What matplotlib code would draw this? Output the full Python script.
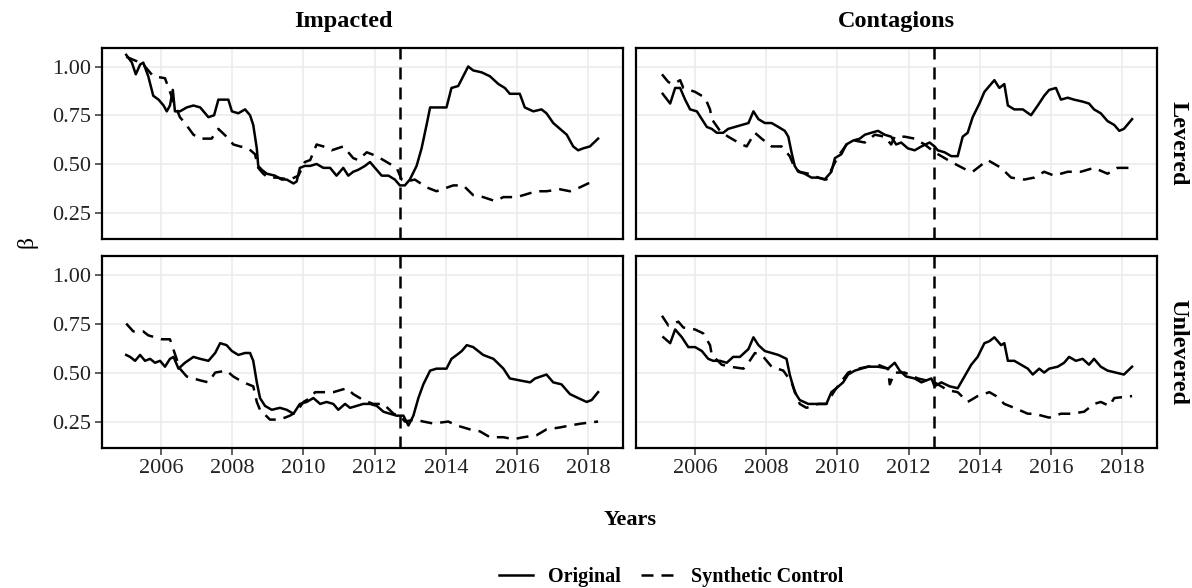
import matplotlib
matplotlib.use("Agg")
import matplotlib.pyplot as plt
from matplotlib.lines import Line2D

plt.rcParams['font.family'] = ['Liberation Serif', 'DejaVu Serif']

# ---------------- data (decimal years, beta) ----------------
imp_lev_orig_x = [2005.02, 2005.18, 2005.29, 2005.41, 2005.50, 2005.64, 2005.78, 2005.93, 2006.07, 2006.16,
                  2006.25, 2006.33, 2006.39, 2006.53, 2006.72, 2006.91, 2007.10, 2007.33, 2007.49, 2007.61,
                  2007.75, 2007.89, 2007.99, 2008.17, 2008.36, 2008.50, 2008.59, 2008.69, 2008.73, 2008.83,
                  2008.97, 2009.20, 2009.39, 2009.53, 2009.72, 2009.81, 2009.90, 2010.04, 2010.19, 2010.37,
                  2010.56, 2010.75, 2010.93, 2011.12, 2011.26, 2011.40, 2011.54, 2011.73, 2011.87, 2012.01,
                  2012.20, 2012.39, 2012.57, 2012.71, 2012.85, 2012.99, 2013.18, 2013.32, 2013.46, 2013.56,
                  2013.74, 2014.02, 2014.16, 2014.35, 2014.49, 2014.63, 2014.77, 2015.01, 2015.24, 2015.48,
                  2015.66, 2015.80, 2016.08, 2016.22, 2016.46, 2016.69, 2016.83, 2017.02, 2017.21, 2017.40,
                  2017.58, 2017.72, 2017.86, 2018.05, 2018.28]
imp_lev_orig_y = [1.06, 1.02, 0.96, 1.01, 1.02, 0.95, 0.85, 0.83, 0.80, 0.77,
                  0.80, 0.88, 0.77, 0.77, 0.79, 0.80, 0.79, 0.74, 0.75, 0.83,
                  0.83, 0.83, 0.77, 0.76, 0.78, 0.75, 0.70, 0.58, 0.49, 0.47,
                  0.45, 0.44, 0.42, 0.42, 0.40, 0.41, 0.48, 0.49, 0.49, 0.50,
                  0.48, 0.48, 0.44, 0.48, 0.44, 0.46, 0.47, 0.49, 0.51, 0.48,
                  0.44, 0.44, 0.42, 0.39, 0.39, 0.42, 0.49, 0.58, 0.70, 0.79,
                  0.79, 0.79, 0.89, 0.90, 0.95, 1.00, 0.98, 0.97, 0.95, 0.91,
                  0.89, 0.86, 0.86, 0.79, 0.77, 0.78, 0.76, 0.71, 0.68, 0.65,
                  0.59, 0.57, 0.58, 0.59, 0.63]

imp_lev_syn_x = [2005.02, 2005.41, 2005.50, 2005.78, 2006.11, 2006.35, 2006.53, 2006.67, 2006.91, 2007.10,
                 2007.42, 2007.61, 2007.84, 2008.03, 2008.22, 2008.45, 2008.64, 2008.73, 2008.87, 2009.01,
                 2009.25, 2009.62, 2009.86, 2010.04, 2010.19, 2010.37, 2010.56, 2010.79, 2011.12, 2011.40,
                 2011.54, 2011.78, 2012.06, 2012.34, 2012.62, 2012.76, 2012.90, 2013.13, 2013.46, 2013.74,
                 2014.21, 2014.49, 2014.77, 2015.05, 2015.38, 2015.62, 2015.99, 2016.18, 2016.55, 2016.83,
                 2017.21, 2017.49, 2017.77, 2018.00, 2018.20]
imp_lev_syn_y = [1.05, 1.02, 1.01, 0.95, 0.94, 0.82, 0.74, 0.71, 0.65, 0.63,
                 0.63, 0.68, 0.64, 0.60, 0.59, 0.58, 0.55, 0.48, 0.45, 0.43,
                 0.43, 0.42, 0.44, 0.51, 0.52, 0.60, 0.59, 0.57, 0.59, 0.53,
                 0.52, 0.56, 0.54, 0.51, 0.48, 0.42, 0.41, 0.42, 0.38, 0.36,
                 0.39, 0.39, 0.34, 0.33, 0.31, 0.33, 0.33, 0.34, 0.36, 0.36,
                 0.37, 0.36, 0.38, 0.40, 0.41]

imp_unl_orig_x = [2005.02, 2005.13, 2005.27, 2005.41, 2005.55, 2005.69, 2005.83, 2005.97, 2006.11, 2006.25,
                  2006.35, 2006.49, 2006.67, 2006.91, 2007.10, 2007.33, 2007.52, 2007.66, 2007.84, 2007.99,
                  2008.17, 2008.36, 2008.50, 2008.59, 2008.69, 2008.78, 2008.92, 2009.11, 2009.34, 2009.53,
                  2009.72, 2009.90, 2010.09, 2010.28, 2010.47, 2010.65, 2010.84, 2010.98, 2011.17, 2011.31,
                  2011.50, 2011.68, 2011.87, 2012.06, 2012.25, 2012.43, 2012.62, 2012.81, 2012.95, 2013.09,
                  2013.23, 2013.37, 2013.56, 2013.74, 2014.02, 2014.16, 2014.31, 2014.45, 2014.59, 2014.77,
                  2015.05, 2015.34, 2015.62, 2015.80, 2016.08, 2016.37, 2016.51, 2016.83, 2017.02, 2017.25,
                  2017.49, 2017.72, 2017.96, 2018.10, 2018.28]
imp_unl_orig_y = [0.59, 0.58, 0.56, 0.59, 0.56, 0.57, 0.55, 0.56, 0.53, 0.57,
                  0.58, 0.52, 0.55, 0.58, 0.57, 0.56, 0.60, 0.65, 0.64, 0.61,
                  0.59, 0.60, 0.60, 0.56, 0.45, 0.37, 0.33, 0.31, 0.32, 0.31,
                  0.29, 0.34, 0.35, 0.37, 0.34, 0.35, 0.34, 0.31, 0.34, 0.32,
                  0.33, 0.34, 0.34, 0.33, 0.30, 0.29, 0.28, 0.28, 0.23, 0.28,
                  0.37, 0.44, 0.51, 0.52, 0.52, 0.57, 0.59, 0.61, 0.64, 0.63,
                  0.59, 0.57, 0.52, 0.47, 0.46, 0.45, 0.47, 0.49, 0.45, 0.44,
                  0.39, 0.37, 0.35, 0.36, 0.40]

imp_unl_syn_x = [2005.02, 2005.22, 2005.50, 2005.64, 2006.02, 2006.25, 2006.53, 2006.72, 2007.10, 2007.33,
                 2007.52, 2007.84, 2008.03, 2008.31, 2008.59, 2008.69, 2008.78, 2009.06, 2009.34, 2009.62,
                 2009.81, 2010.00, 2010.19, 2010.33, 2010.61, 2010.84, 2011.22, 2011.40, 2011.68, 2011.96,
                 2012.25, 2012.53, 2012.71, 2012.85, 2013.13, 2013.37, 2013.65, 2014.07, 2014.31, 2014.68,
                 2014.96, 2015.24, 2015.62, 2015.90, 2016.18, 2016.55, 2016.83, 2017.21, 2017.49, 2017.82,
                 2018.28]
imp_unl_syn_y = [0.75, 0.71, 0.71, 0.69, 0.67, 0.67, 0.52, 0.48, 0.46, 0.45,
                 0.50, 0.51, 0.48, 0.45, 0.43, 0.35, 0.31, 0.26, 0.26, 0.28,
                 0.30, 0.35, 0.37, 0.40, 0.40, 0.40, 0.42, 0.39, 0.36, 0.34,
                 0.34, 0.29, 0.28, 0.25, 0.26, 0.25, 0.24, 0.25, 0.23, 0.21,
                 0.20, 0.17, 0.17, 0.16, 0.17, 0.18, 0.21, 0.22, 0.23, 0.24,
                 0.25]

con_lev_orig_x = [2005.09, 2005.30, 2005.44, 2005.58, 2005.72, 2005.86, 2006.05, 2006.19, 2006.33, 2006.47,
                  2006.61, 2006.79, 2006.93, 2007.12, 2007.31, 2007.50, 2007.64, 2007.78, 2007.96, 2008.15,
                  2008.34, 2008.52, 2008.62, 2008.71, 2008.80, 2008.90, 2009.08, 2009.27, 2009.46, 2009.64,
                  2009.83, 2009.93, 2010.11, 2010.25, 2010.44, 2010.63, 2010.77, 2010.95, 2011.14, 2011.33,
                  2011.51, 2011.65, 2011.79, 2011.98, 2012.17, 2012.36, 2012.59, 2012.73, 2012.82, 2013.01,
                  2013.20, 2013.38, 2013.52, 2013.66, 2013.80, 2013.99, 2014.13, 2014.27, 2014.41, 2014.55,
                  2014.69, 2014.79, 2014.97, 2015.21, 2015.44, 2015.63, 2015.81, 2015.95, 2016.14, 2016.28,
                  2016.47, 2016.65, 2016.89, 2017.07, 2017.21, 2017.40, 2017.59, 2017.78, 2017.92, 2018.05,
                  2018.28]
con_lev_orig_y = [0.86, 0.81, 0.89, 0.89, 0.83, 0.78, 0.77, 0.73, 0.69, 0.68,
                  0.66, 0.66, 0.68, 0.69, 0.70, 0.71, 0.77, 0.73, 0.71, 0.71,
                  0.69, 0.67, 0.64, 0.56, 0.49, 0.46, 0.45, 0.43, 0.43, 0.42,
                  0.46, 0.53, 0.55, 0.60, 0.62, 0.63, 0.65, 0.66, 0.67, 0.65,
                  0.64, 0.60, 0.61, 0.58, 0.57, 0.59, 0.61, 0.59, 0.57, 0.56,
                  0.54, 0.54, 0.64, 0.66, 0.74, 0.81, 0.87, 0.90, 0.93, 0.89,
                  0.91, 0.80, 0.78, 0.78, 0.75, 0.80, 0.85, 0.88, 0.89, 0.83,
                  0.84, 0.83, 0.82, 0.81, 0.78, 0.76, 0.72, 0.70, 0.67, 0.68,
                  0.73]

con_lev_syn_x = [2005.07, 2005.25, 2005.39, 2005.58, 2005.67, 2006.00, 2006.28, 2006.42, 2006.47, 2006.70,
                 2006.93, 2007.31, 2007.45, 2007.68, 2007.87, 2008.15, 2008.43, 2008.66, 2008.80, 2008.94,
                 2009.18, 2009.46, 2009.69, 2010.02, 2010.30, 2010.49, 2010.77, 2011.05, 2011.33, 2011.51,
                 2011.61, 2011.89, 2012.17, 2012.45, 2012.73, 2012.92, 2013.20, 2013.62, 2013.80, 2014.22,
                 2014.60, 2014.88, 2015.25, 2015.53, 2015.81, 2016.09, 2016.47, 2016.84, 2017.21, 2017.59,
                 2017.87, 2018.28]
con_lev_syn_y = [0.96, 0.92, 0.91, 0.93, 0.89, 0.87, 0.84, 0.78, 0.73, 0.67,
                 0.64, 0.60, 0.59, 0.66, 0.63, 0.59, 0.59, 0.54, 0.48, 0.46,
                 0.45, 0.43, 0.42, 0.54, 0.61, 0.62, 0.61, 0.65, 0.64, 0.60,
                 0.64, 0.64, 0.63, 0.60, 0.56, 0.54, 0.51, 0.47, 0.46, 0.52,
                 0.48, 0.43, 0.42, 0.43, 0.46, 0.44, 0.46, 0.46, 0.48, 0.45,
                 0.48, 0.48]

con_unl_orig_x = [2005.11, 2005.30, 2005.44, 2005.63, 2005.81, 2006.00, 2006.19, 2006.37, 2006.51, 2006.70,
                  2006.89, 2007.07, 2007.26, 2007.50, 2007.64, 2007.78, 2007.96, 2008.15, 2008.34, 2008.57,
                  2008.66, 2008.80, 2008.94, 2009.18, 2009.46, 2009.69, 2009.83, 2009.97, 2010.16, 2010.30,
                  2010.49, 2010.67, 2010.86, 2011.14, 2011.42, 2011.61, 2011.75, 2011.93, 2012.17, 2012.36,
                  2012.50, 2012.64, 2012.73, 2012.92, 2013.15, 2013.38, 2013.57, 2013.76, 2013.94, 2014.13,
                  2014.27, 2014.41, 2014.60, 2014.69, 2014.79, 2014.97, 2015.16, 2015.35, 2015.49, 2015.67,
                  2015.81, 2015.95, 2016.19, 2016.37, 2016.51, 2016.70, 2016.89, 2017.07, 2017.21, 2017.40,
                  2017.59, 2017.82, 2018.05, 2018.28]
con_unl_orig_y = [0.68, 0.65, 0.72, 0.68, 0.63, 0.63, 0.61, 0.57, 0.56, 0.56,
                  0.55, 0.58, 0.58, 0.62, 0.68, 0.64, 0.61, 0.60, 0.59, 0.57,
                  0.49, 0.40, 0.36, 0.34, 0.34, 0.34, 0.40, 0.42, 0.45, 0.49,
                  0.51, 0.52, 0.53, 0.53, 0.52, 0.55, 0.51, 0.48, 0.47, 0.45,
                  0.46, 0.47, 0.43, 0.45, 0.43, 0.42, 0.48, 0.54, 0.58, 0.65,
                  0.66, 0.68, 0.64, 0.65, 0.56, 0.56, 0.54, 0.52, 0.49, 0.52,
                  0.50, 0.52, 0.53, 0.55, 0.58, 0.56, 0.57, 0.54, 0.57, 0.53,
                  0.51, 0.50, 0.49, 0.53]

con_unl_syn_x = [2005.07, 2005.25, 2005.53, 2005.67, 2006.00, 2006.23, 2006.42, 2006.47, 2006.75, 2006.98,
                 2007.36, 2007.50, 2007.68, 2007.92, 2008.15, 2008.48, 2008.71, 2008.94, 2009.13, 2009.46,
                 2009.69, 2009.93, 2010.30, 2010.58, 2010.86, 2011.14, 2011.42, 2011.47, 2011.61, 2011.89,
                 2012.26, 2012.73, 2013.10, 2013.38, 2013.66, 2013.94, 2014.27, 2014.46, 2014.69, 2014.97,
                 2015.35, 2015.53, 2015.95, 2016.28, 2016.56, 2016.93, 2017.21, 2017.40, 2017.64, 2017.78,
                 2018.28]
con_unl_syn_y = [0.79, 0.74, 0.76, 0.73, 0.72, 0.70, 0.64, 0.59, 0.54, 0.53,
                 0.52, 0.55, 0.60, 0.58, 0.53, 0.51, 0.45, 0.34, 0.32, 0.34,
                 0.34, 0.41, 0.50, 0.52, 0.53, 0.54, 0.52, 0.44, 0.50, 0.50,
                 0.47, 0.45, 0.41, 0.40, 0.35, 0.38, 0.40, 0.38, 0.34, 0.32,
                 0.29, 0.29, 0.27, 0.29, 0.29, 0.30, 0.34, 0.35, 0.33, 0.37,
                 0.38]

treatment_year = 2012.72
col_labels = ["Impacted", "Contagions"]
row_labels = ["Levered", "Unlevered"]
x_ticks = [2006, 2008, 2010, 2012, 2014, 2016, 2018]
y_ticks = [0.25, 0.50, 0.75, 1.00]
legend_labels = ["Original", "Synthetic Control"]

series = {
    (0, 0): (imp_lev_orig_x, imp_lev_orig_y, imp_lev_syn_x, imp_lev_syn_y),
    (0, 1): (con_lev_orig_x, con_lev_orig_y, con_lev_syn_x, con_lev_syn_y),
    (1, 0): (imp_unl_orig_x, imp_unl_orig_y, imp_unl_syn_x, imp_unl_syn_y),
    (1, 1): (con_unl_orig_x, con_unl_orig_y, con_unl_syn_x, con_unl_syn_y),
}

# ---------------- layout ----------------
W, H = 1192, 588
fig = plt.figure(figsize=(W / 100, H / 100), dpi=100)

def px_axes(x0, y0, x1, y1):
    return fig.add_axes([x0 / W, 1 - y1 / H, (x1 - x0) / W, (y1 - y0) / H])

col_px = [(102, 623), (636, 1157)]
row_px = [(48, 239), (256, 448)]
DASH = (0, (4.8, 3.2))
LW = 1.8
tick_color = '#333333'
label_color = '#222222'

for r in range(2):
    for c in range(2):
        ax = px_axes(col_px[c][0], row_px[r][0], col_px[c][1], row_px[r][1])
        ox, oy, sx, sy = series[(r, c)]
        ax.plot(ox, oy, color='black', lw=LW, solid_joinstyle='round', zorder=3)
        ax.plot(sx, sy, color='black', lw=LW, linestyle=DASH, zorder=3)
        ax.axvline(treatment_year, color='black', lw=LW, linestyle=DASH, zorder=4)
        ax.set_xlim(2004.34, 2018.98)
        ax.set_ylim(0.115, 1.095)
        ax.set_xticks(x_ticks)
        ax.set_yticks(y_ticks)
        ax.grid(True, color='#ebebeb', lw=1.1, zorder=0)
        ax.set_axisbelow(True)
        for s in ax.spines.values():
            s.set_linewidth(1.6)
            s.set_color('black')
        ax.tick_params(axis='both', length=5, width=1.1, color=tick_color,
                       labelsize=16, labelcolor=label_color, pad=3)
        if r == 0:
            ax.tick_params(axis='x', length=0, labelbottom=False)
        else:
            ax.set_xticklabels([str(t) for t in x_ticks])
        if c == 1:
            ax.tick_params(axis='y', length=0, labelleft=False)
        else:
            ax.set_yticklabels([f"{t:.2f}" for t in y_ticks])

# strip labels
fig.text(343 / W, 1 - 22 / H, col_labels[0], ha='center', va='center',
         fontsize=17.5, fontweight='bold')
fig.text(896 / W, 1 - 22 / H, col_labels[1], ha='center', va='center',
         fontsize=17.5, fontweight='bold')
fig.text(1178 / W, 1 - 143 / H, row_labels[0], ha='center', va='center',
         fontsize=17.5, fontweight='bold', rotation=-90)
fig.text(1178 / W, 1 - 352 / H, row_labels[1], ha='center', va='center',
         fontsize=17.5, fontweight='bold', rotation=-90)

# axis titles
fig.text(27 / W, 1 - 242 / H, "β", ha='center', va='center', fontsize=17,
         rotation=90, color='black')
fig.text(630 / W, 1 - 520 / H, "Years", ha='center', va='center', fontsize=16,
         fontweight='bold')

# legend
handles = [Line2D([], [], color='black', lw=LW),
           Line2D([], [], color='black', lw=LW, linestyle=DASH)]
fig.legend(handles, legend_labels, loc='center', bbox_to_anchor=(671 / W, 1 - 577 / H),
           ncol=2, frameon=False, prop={'weight': 'bold', 'size': 14.5},
           handlelength=1.7, handletextpad=0.75, columnspacing=1.0)

fig.savefig("out.png", dpi=100)
